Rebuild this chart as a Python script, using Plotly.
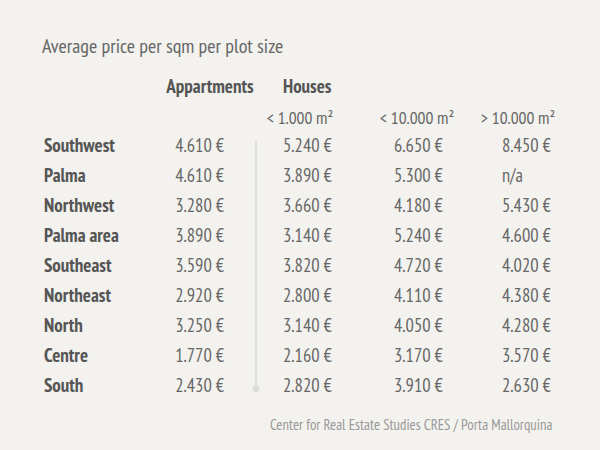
import plotly.graph_objects as go

regions = ["Southwest", "Palma", "Northwest", "Palma area", "Southeast",
           "Northeast", "North", "Centre", "South"]
appartments = ["4.610 €", "4.610 €", "3.280 €", "3.890 €", "3.590 €",
               "2.920 €", "3.250 €", "1.770 €", "2.430 €"]
houses_small = ["5.240 €", "3.890 €", "3.660 €", "3.140 €", "3.820 €",
                "2.800 €", "3.140 €", "2.160 €", "2.820 €"]
houses_medium = ["6.650 €", "5.300 €", "4.180 €", "5.240 €", "4.720 €",
                 "4.110 €", "4.050 €", "3.170 €", "3.910 €"]
houses_large = ["8.450 €", "n/a", "5.430 €", "4.600 €", "4.020 €",
                "4.380 €", "4.280 €", "3.570 €", "2.630 €"]
group_headers = ["Appartments", "Houses"]
size_headers = ["< 1.000 m²", "< 10.000 m²", "> 10.000 m²"]
title = "Average price per sqm per plot size"
source = "Center for Real Estate Studies CRES / Porta Mallorquina"

FONT = "Ubuntu Condensed, PT Sans Narrow, Liberation Sans Narrow, DejaVu Sans Condensed, Roboto, sans-serif"
rows = list(range(len(regions)))

fig = go.Figure()

def col(x, texts, pos, color="#666", size=18.5, ys=rows):
    fig.add_trace(go.Scatter(
        x=[x] * len(texts), y=ys, text=texts, mode="text",
        textposition=pos, hoverinfo="skip", showlegend=False,
        textfont=dict(family=FONT, size=size, color=color)))

col(44, [f"<b>{r}</b>" for r in regions], "middle right", color="#555", size=19)
col(224, appartments, "middle left")
col(283, houses_small, "middle right")
col(394, houses_medium, "middle right")
col(502, houses_large, "middle right")

# headers
col(210, [f"<b>{group_headers[0]}</b>"], "middle center", color="#555", size=19, ys=[-1.97])
col(283, [f"<b>{group_headers[1]}</b>"], "middle right", color="#555", size=19, ys=[-1.97])
col(300, [size_headers[0]], "middle center", ys=[-0.9], size=17.5)
col(417, [size_headers[1]], "middle center", ys=[-0.9], size=17.5)
col(518, [size_headers[2]], "middle center", ys=[-0.9], size=17.5)

# separator line with dot
fig.add_shape(type="line", x0=256, x1=256, y0=-0.2, y1=8.05,
              xref="x", yref="y", line=dict(color="#dcdcdc", width=2))
fig.add_trace(go.Scatter(x=[256], y=[8.05], mode="markers", hoverinfo="skip",
                         showlegend=False,
                         marker=dict(color="#dcdcdc", size=7)))

fig.add_annotation(x=40, y=-3.37, xref="x", yref="y", text=title,
                   showarrow=False, xanchor="left", yanchor="middle",
                   font=dict(family=FONT, size=20, color="#666"))
fig.add_annotation(x=554, y=9.25, xref="x", yref="y", text=source,
                   showarrow=False, xanchor="right", yanchor="middle",
                   font=dict(family=FONT, size=14.8, color="#999"))

top = 147
fig.update_layout(
    width=600, height=450,
    margin=dict(l=0, r=0, t=0, b=0),
    paper_bgcolor="#f3f2ee", plot_bgcolor="#f3f2ee",
    xaxis=dict(range=[0, 600], visible=False, fixedrange=True),
    yaxis=dict(range=[(450 - top) / 30, -top / 30], visible=False, fixedrange=True),
)

fig.write_html("out.html", config={"displayModeBar": False},
               post_script="document.body.style.margin='0';document.body.style.background='#f3f2ee';")
